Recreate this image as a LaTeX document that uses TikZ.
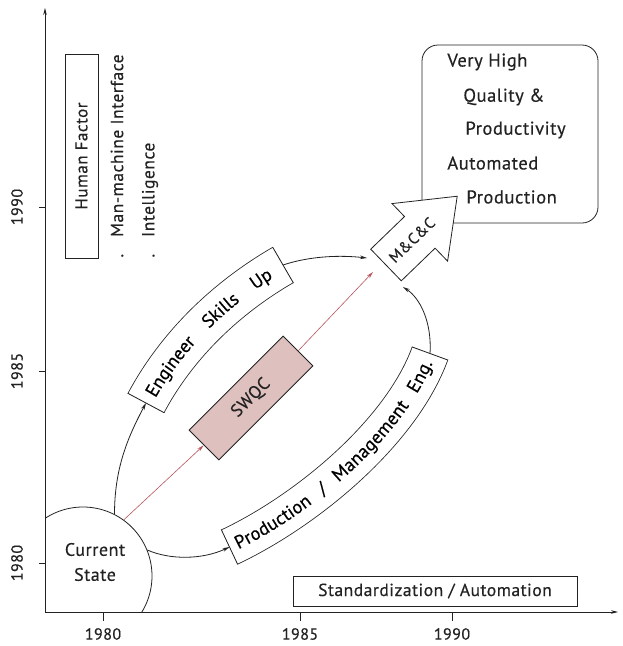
\documentclass[tikz,border=0pt]{standalone}
\usepackage{fontspec}
\setmainfont{PT Sans}[LetterSpace=3,FakeBold=0.4]
\usetikzlibrary{decorations.text,calc,arrows.meta}

\definecolor{ink}{HTML}{222222}
\definecolor{swqcfill}{RGB}{222,192,190}
\definecolor{redline}{RGB}{185,85,95}

\begin{document}
\begin{tikzpicture}[x=1pt,y=-1pt,line width=0.8pt,color=ink,
  lbl/.style={font=\fontsize{18.5}{18.5}\selectfont,inner sep=0pt},
  ticklbl/.style={font=\fontsize{16}{16}\selectfont,inner sep=0pt},
  boxed/.style={draw,fill=white,font=\fontsize{17.5}{17.5}\selectfont},
  conn/.style={-{Stealth[length=7pt,width=3.6pt]}},
  band/.style={line width=0.8pt,double=white,double distance=#1},
  bandtext/.style n args={3}{decorate,decoration={text along path,
    text align={fit to path stretching spaces,left indent=#2,right indent=#3},raise=-6pt,
    text={|\fontsize{18.5}{18.5}\selectfont|#1}}}]

\useasboundingbox[fill=white] (0,0) rectangle (622,646);

% axes
\coordinate (O) at (45,612);
\coordinate (xend) at (618,612);
\coordinate (yend) at (45,8);
\draw[conn] (O) -- (xend);
\draw[conn] (O) -- (yend);
\foreach \x/\t in {103/1980,300/1985,452/1990}{
  \draw (\x,612) -- (\x,621);
  \node[ticklbl] (xl\t) at (\x,634) {\t};
}
\foreach \y/\t in {563/1980,371/1985,207/1990}{
  \draw (45,\y) -- (39,\y);
  \node[ticklbl,rotate=90] (yl\t) at (17,\y) {\t};
}

% human factor
\node[draw,rotate=90,minimum width=204,minimum height=33,font=\fontsize{17}{17}\selectfont] (hf) at (81.5,156) {Human Factor};
\node[lbl,font=\fontsize{17.5}{17.5}\selectfont,rotate=90,anchor=west] (mmi) at (117,258) {.\hspace{17pt}Man-machine Interface};
\node[lbl,font=\fontsize{17.5}{17.5}\selectfont,rotate=90,anchor=west] (intel) at (150,258) {.\hspace{17pt}Intelligence};

% goal box
\node[draw,rounded corners=16,minimum width=176,minimum height=178] (goal) at (510,134) {};
\node[lbl,anchor=west] (g1) at (447,62) {Very High};
\node[lbl,anchor=west] (g2) at (463,97) {Quality \&};
\node[lbl,anchor=west] (g3) at (465,130) {Productivity};
\node[lbl,anchor=west] (g4) at (447,163) {Automated};
\node[lbl,anchor=west] (g5) at (466,197) {Production};

% standardization
\node[boxed,minimum width=284,minimum height=30] (std) at (435,591) {Standardization / Automation};

% current state
\begin{scope}
  \clip (45,0) rectangle (622,612);
  \node[draw,circle,minimum size=138] (cs) at (83,576) {};
\end{scope}
\node[lbl,align=center,font=\fontsize{18}{25}\selectfont] (cst) at (95,562) {Current\\State};

% SWQC
\node[boxed,fill=swqcfill,rotate=45,minimum width=133,minimum height=42] (swqc) at (251,398) {SWQC};

% M&C&C block arrow
\begin{scope}[shift={(386,265)},rotate=44]
  \draw[fill=white,line join=miter] (0,-22) -- (47,-22) -- (47,-40) -- (99,0) -- (47,40) -- (47,22) -- (0,22) -- cycle;
  \node[font=\fontsize{15.5}{15.5}\selectfont,inner sep=0pt,rotate=44] (mcc) at (36,0) {M\&C\&C};
\end{scope}
\coordinate (mccA) at (367,258);
\coordinate (mccB) at (373,272);
\coordinate (mccC) at (403,287);

% engineer skills banner
\coordinate (es) at (146,403);
\coordinate (ec1) at (177,345);
\coordinate (ec2) at (226,298);
\coordinate (ee) at (283,265);
\draw[band=40pt] (es) .. controls (ec1) and (ec2) .. (ee);
\draw ($(es)!20.8pt!90:(ec1)$) -- ($(es)!20.8pt!-90:(ec1)$);
\draw ($(ee)!20.8pt!90:(ec2)$) -- ($(ee)!20.8pt!-90:(ec2)$);
\path[bandtext={Engineer Skills Up}{9pt}{15pt}] (es) .. controls (ec1) and (ec2) .. (ee);

% production / management banner
\coordinate (ps) at (229.5,547);
\coordinate (pc1) at (306,511);
\coordinate (pc2) at (401,433);
\coordinate (pe) at (430,353.5);
\draw[band=37pt] (ps) .. controls (pc1) and (pc2) .. (pe);
\draw ($(ps)!19.3pt!90:(pc1)$) -- ($(ps)!19.3pt!-90:(pc1)$);
\draw ($(pe)!19.3pt!90:(pc2)$) -- ($(pe)!19.3pt!-90:(pc2)$);
\path[bandtext={Production / Management Eng.}{7pt}{8pt}] (ps) .. controls (pc1) and (pc2) .. (pe);

% connectors
\draw[conn] (cs.63) .. controls +(0,-45) and ($(es)!-40pt!(ec1)$) .. (es);
\draw[conn] (ee) .. controls (310,256) and (340,255) .. (mccA);
\draw[conn] (cs.22) .. controls (170,560) and ($(ps)!-30pt!(pc1)$) .. (ps);
\draw[conn] (pe) .. controls (432,322) and (420,298) .. (mccC);
\draw[conn,redline,line width=0.6pt] (cs.54) -- (swqc.west);
\draw[conn,redline,line width=0.6pt] (swqc.east) -- (mccB);
\end{tikzpicture}
\end{document}
